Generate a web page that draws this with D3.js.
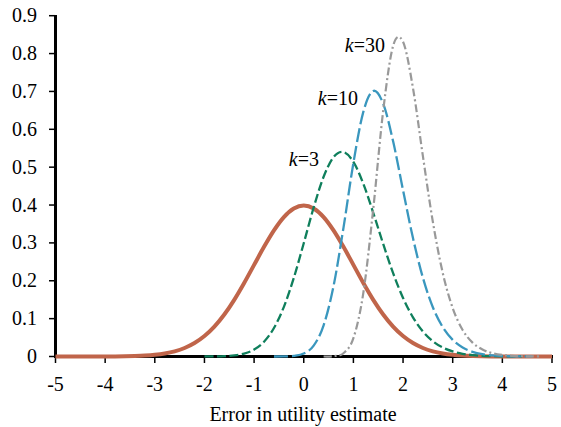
<!DOCTYPE html>
<html><head><meta charset="utf-8">
<script src="https://cdn.jsdelivr.net/npm/d3@7"></script>
<style>
html,body{margin:0;padding:0;background:#fff;}
svg{display:block;}
</style></head>
<body>
<svg id="chart" width="561" height="427" font-family="'Liberation Serif', 'Times New Roman', Times, 'DejaVu Serif', serif"></svg>
<script>
const xs = [-5,-4.8,-4.6,-4.4,-4.2,-4,-3.8,-3.6,-3.4,-3.2,-3,-2.8,-2.6,-2.4,-2.2,-2,-1.8,-1.6,-1.4,-1.2,-1,-0.8,-0.6,-0.4,-0.2,0,0.2,0.4,0.6,0.8,1,1.2,1.4,1.6,1.8,2,2.2,2.4,2.6,2.8,3,3.2,3.4,3.6,3.8,4,4.2,4.4,4.6,4.8,5];
const k1 = [0.0000015,0.000004,0.00001,0.000025,0.000059,0.000134,0.00029,0.00061,0.00123,0.00238,0.00443,0.00792,0.01358,0.02239,0.03547,0.05399,0.07895,0.1109,0.1497,0.1942,0.2420,0.2897,0.3332,0.3683,0.3910,0.3989,0.3910,0.3683,0.3332,0.2897,0.2420,0.1942,0.1497,0.1109,0.07895,0.05399,0.03547,0.02239,0.01358,0.00792,0.00443,0.00238,0.00123,0.00061,0.00029,0.000134,0.000059,0.000025,0.00001,0.000004,0.0000015];
const k3 = [null,null,null,null,null,null,null,null,null,null,null,null,null,null,null,0.0001,0.0003,0.0010,0.0029,0.0077,0.0183,0.0390,0.0752,0.1312,0.2076,0.2992,0.3937,0.4746,0.5264,0.5398,0.5139,0.4562,0.3795,0.2972,0.2201,0.1547,0.1035,0.0661,0.0404,0.0236,0.0133,0.0071,0.0037,0.0018,0.0009,0.0004,0.0002,0.0001,null,null,null];
const k10 = [null,null,null,null,null,null,null,null,null,null,null,null,null,null,null,null,null,null,null,null,null,null,0.00003,0.00025,0.0016,0.0078,0.0287,0.0822,0.1860,0.3398,0.5110,0.6461,0.7013,0.6678,0.5682,0.4389,0.3127,0.2079,0.1302,0.0774,0.0438,0.0237,0.0123,0.0061,0.0029,0.0013,0.0006,0.0002,0.0001,null,null];
const k30 = [null,null,null,null,null,null,null,null,null,null,null,null,null,null,null,null,null,null,null,null,null,null,null,null,null,null,null,0.00005,0.0009,0.0087,0.0483,0.1680,0.3901,0.6491,0.8203,0.8310,0.7090,0.5290,0.3558,0.2205,0.1279,0.0701,0.0366,0.0183,0.0087,0.0040,0.0018,0.0007,0.0003,0.0001,null];
const xTicks = [-5,-4,-3,-2,-1,0,1,2,3,4,5];
const yTicks = [0,0.1,0.2,0.3,0.4,0.5,0.6,0.7,0.8,0.9];
const seriesNames = ["30","10","3"];

const svg = d3.select("#chart");
const x = d3.scaleLinear().domain([-5,5]).range([55.5,552]);
const y = d3.scaleLinear().domain([0,0.9]).range([356.5,15.7]);
const FS = 20;

yTicks.forEach(t=>{
  svg.append("text").attr("x",37).attr("y",y(t)+6.5).attr("text-anchor","end")
    .attr("font-size",FS).text(t===0?"0":d3.format(".1f")(t));
  svg.append("line").attr("x1",49).attr("x2",55.5).attr("y1",y(t)).attr("y2",y(t))
    .attr("stroke","#000").attr("stroke-width",1.5);
});
xTicks.forEach(t=>{
  svg.append("line").attr("x1",x(t)).attr("x2",x(t)).attr("y1",356.5).attr("y2",363)
    .attr("stroke","#000").attr("stroke-width",1.5);
  svg.append("text").attr("x",x(t)).attr("y",391).attr("text-anchor","middle")
    .attr("font-size",FS).text(t);
});
svg.append("line").attr("x1",55.5).attr("x2",55.5).attr("y1",15).attr("y2",357.5)
  .attr("stroke","#000").attr("stroke-width",3);
svg.append("line").attr("x1",54).attr("x2",553).attr("y1",356.5).attr("y2",356.5)
  .attr("stroke","#000").attr("stroke-width",3);

const line = d3.line().defined(d=>d[1]!==null).x(d=>x(d[0])).y(d=>y(d[1])).curve(d3.curveCatmullRom.alpha(0));
function draw(vals, color, w, dash){
  svg.append("path").datum(xs.map((v,i)=>[v,vals[i]])).attr("d",line)
    .attr("fill","none").attr("stroke",color).attr("stroke-width",w)
    .attr("stroke-dasharray",dash).attr("stroke-linecap","butt");
}
draw(k1,"#C0654A",4,null);
draw(k3,"#0F7F5C",2.3,"9,3.5");
draw(k10,"#3A97BE",2.3,"14,4");
draw(k30,"#999999",2.2,"8,3,2,3");

const labPos = [{x:385,y:52},{x:358,y:105},{x:319,y:166}];
seriesNames.forEach((n,i)=>{
  const tx = svg.append("text").attr("x",labPos[i].x).attr("y",labPos[i].y).attr("text-anchor","end").attr("font-size",FS);
  tx.append("tspan").attr("font-style","italic").text("k");
  tx.append("tspan").text("="+n);
});
svg.append("text").attr("x",303).attr("y",421).attr("text-anchor","middle").attr("font-size",FS).text("Error in utility estimate");
</script>
</body></html>
